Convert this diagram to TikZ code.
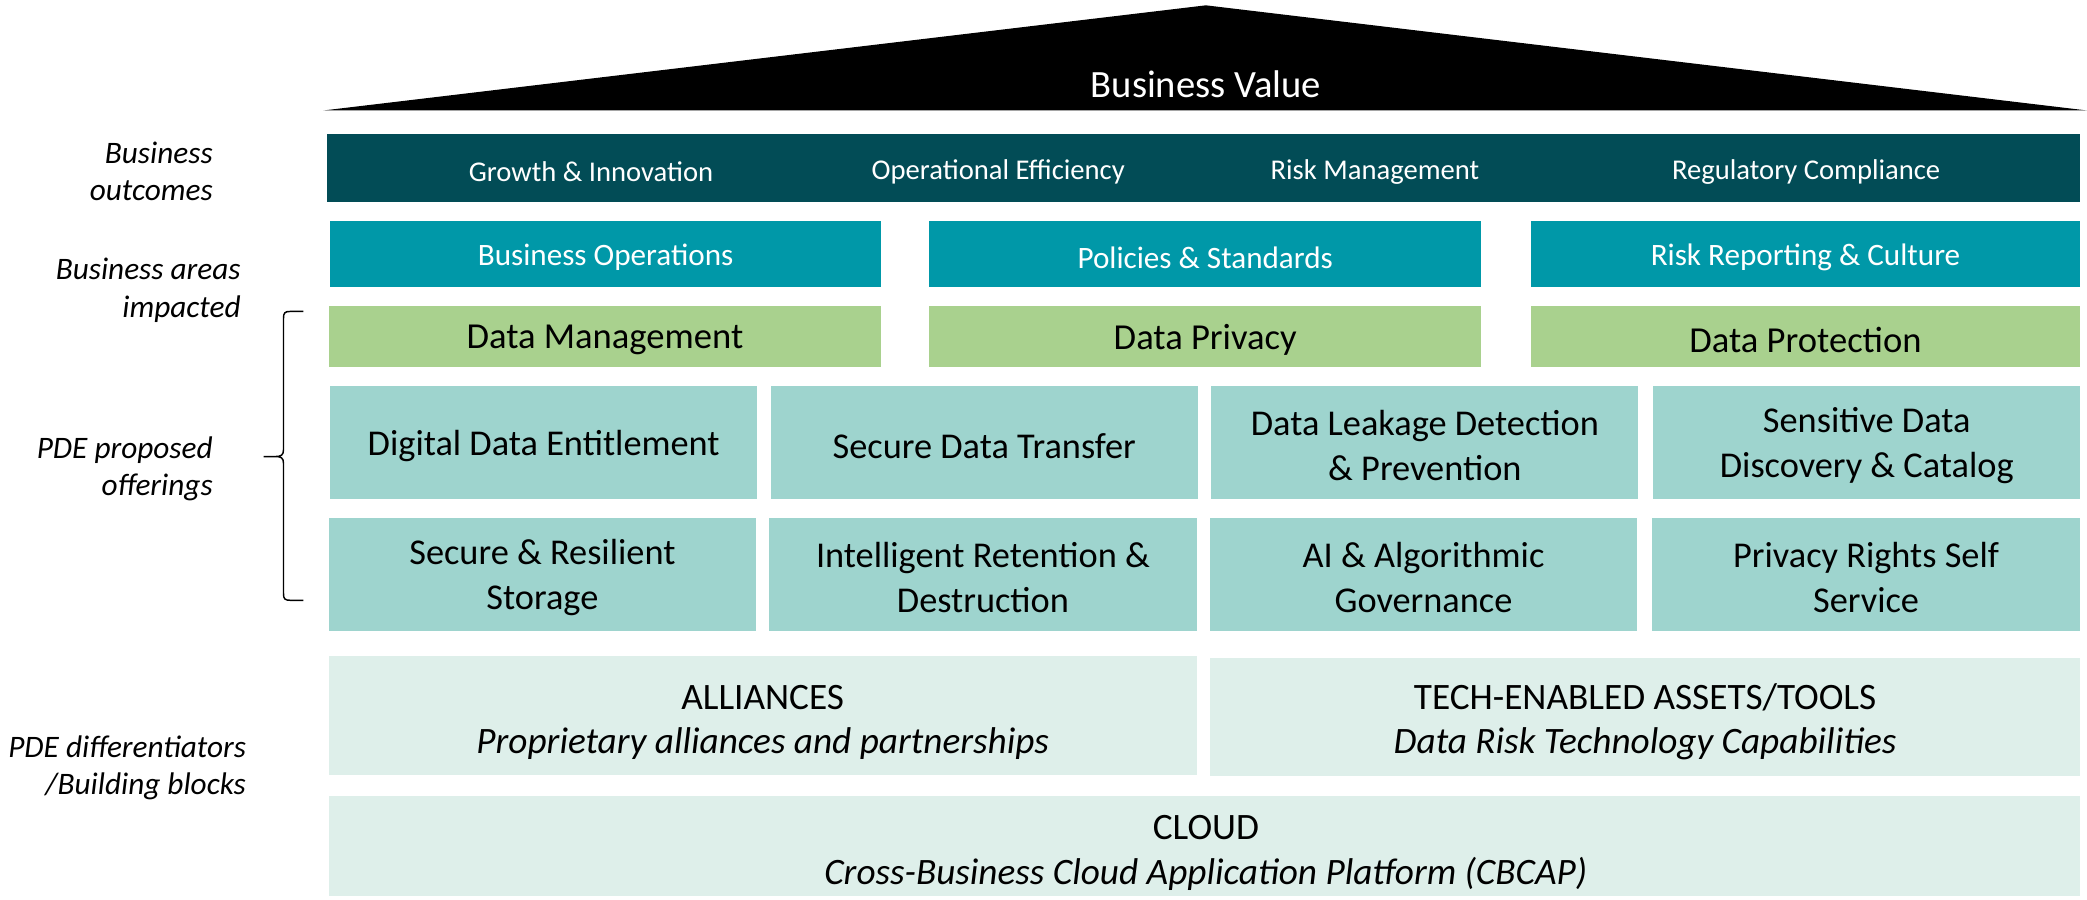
\documentclass[tikz,border=0pt]{standalone}
\usepackage{fontspec}
\setmainfont{Carlito}
\definecolor{darkteal}{HTML}{024C56}
\definecolor{midteal}{HTML}{0098A8}
\definecolor{leafgreen}{HTML}{A9D18E}
\definecolor{lightteal}{HTML}{9ED4CE}
\definecolor{paleteal}{HTML}{DEEFEA}
\newcommand\boxwithtext[6]{%
  \node[#1, minimum width=#4pt] (#2) at (#3) {};
  \node[#5] (#2t) at ([yshift=-2.5pt]#2.center) {#6};}
\begin{document}
\begin{tikzpicture}[x=1pt,y=1pt,
  box/.style={anchor=north west, inner sep=0pt, outer sep=0pt},
  txt/.style={inner sep=0pt, align=center},
  outcome/.style={txt, text=white, font=\fontsize{21.5}{26}\selectfont},
  areabox/.style={box, fill=midteal, minimum height=50pt},
  areatext/.style={txt, text=white, font=\fontsize{23.4}{28}\selectfont},
  domainbox/.style={box, fill=leafgreen, minimum height=46pt},
  domaintext/.style={txt, font=\fontsize{27.5}{32}\selectfont},
  offerbox/.style={box, fill=lightteal, minimum height=85pt},
  offertext/.style={txt, font=\fontsize{27.3}{34}\selectfont},
  blockbox/.style={box, fill=paleteal, minimum height=89pt},
  blocktitle/.style={txt, font=\fontsize{28}{32}\selectfont},
  blocksub/.style={txt, font=\itshape\fontsize{28}{32}\selectfont},
  sidelabel/.style={anchor=east, align=right, inner sep=0pt, font=\itshape\fontsize{23.5}{28}\selectfont}
]
\useasboundingbox (0,0) rectangle (1568,-676);
% roof
\fill[black] (243,-83) -- (906,-4) -- (1568,-83) -- cycle;
\node[txt, text=white, font=\fontsize{29}{34}\selectfont] (bv) at (906,-63.5) {Business Value};
% outcomes bar
\node[box, fill=darkteal, minimum width=1317pt, minimum height=51pt] (outbar) at (246,-101) {};
\node[outcome] (o1) at (444,-129) {Growth \& Innovation};
\node[outcome] (o2) at (750,-129) {Operational Efficiency};
\node[outcome] (o3) at (1033,-129) {Risk Management};
\node[outcome] (o4) at (1357,-129) {Regulatory Compliance};
% business areas
\boxwithtext{areabox}{a1}{248,-166}{414}{areatext}{Business Operations}
\boxwithtext{areabox}{a2}{698,-166}{415}{areatext}{Policies \& Standards}
\boxwithtext{areabox}{a3}{1150,-166}{413}{areatext}{Risk Reporting \& Culture}
% domains
\boxwithtext{domainbox}{d1}{247,-230}{415}{domaintext}{Data Management}
\boxwithtext{domainbox}{d2}{698,-230}{415}{domaintext}{Data Privacy}
\boxwithtext{domainbox}{d3}{1150,-230}{413}{domaintext}{Data Protection}
% offerings row 1
\boxwithtext{offerbox}{f1}{248,-290}{321}{offertext}{Digital Data Entitlement}
\boxwithtext{offerbox}{f2}{579,-290}{321}{offertext}{Secure Data Transfer}
\boxwithtext{offerbox}{f3}{910,-290}{321}{offertext}{Data Leakage Detection\\\& Prevention}
\boxwithtext{offerbox}{f4}{1242,-290}{321}{offertext}{Sensitive Data\\Discovery \& Catalog}
% offerings row 2
\boxwithtext{offerbox}{g1}{247,-389}{321}{offertext}{Secure \& Resilient\\Storage}
\boxwithtext{offerbox}{g2}{578,-389}{321}{offertext}{Intelligent Retention \&\\Destruction}
\boxwithtext{offerbox}{g3}{909,-389}{321}{offertext}{AI \& Algorithmic\\Governance}
\boxwithtext{offerbox}{g4}{1241,-389}{322}{offertext}{Privacy Rights Self\\Service}
% building blocks
\node[blockbox, minimum width=652pt] (b1) at (247,-493) {};
\node[blockbox, minimum width=654pt] (b2) at (909,-494) {};
\node[box, fill=paleteal, minimum width=1316pt, minimum height=75pt] (b3) at (247,-598) {};
\node[blocktitle] (b1t) at (573,-524) {ALLIANCES};
\node[blocksub] (b1s) at (573,-558.5) {Proprietary alliances and partnerships};
\node[blocktitle] (b2t) at (1236,-524) {TECH-ENABLED ASSETS/TOOLS};
\node[blocksub] (b2s) at (1236,-558.5) {Data Risk Technology Capabilities};
\node[blocktitle] (b3t) at (906,-622) {CLOUD};
\node[blocksub] (b3s) at (906,-656.5) {Cross-Business Cloud Application Platform (CBCAP)};
% side labels
\node[sidelabel] (l1) at (160,-129) {Business\\outcomes};
\node[sidelabel] (l2) at (181,-218) {Business areas\\impacted};
\node[sidelabel] (l3) at (160,-352) {PDE proposed\\offerings};
\node[sidelabel] (l4) at (185,-577) {PDE differentiators\\/Building blocks};
% brace
\draw[line width=1.1pt] (228,-234) -- (218,-234) .. controls (214,-234) and (213,-235) .. (213,-239)
  -- (213,-338) .. controls (213,-342) and (211,-343) .. (207,-343) -- (198,-343)
  -- (207,-343) .. controls (211,-343) and (213,-344) .. (213,-348)
  -- (213,-446) .. controls (213,-450) and (214,-451) .. (218,-451) -- (228,-451);
\end{tikzpicture}
\end{document}
